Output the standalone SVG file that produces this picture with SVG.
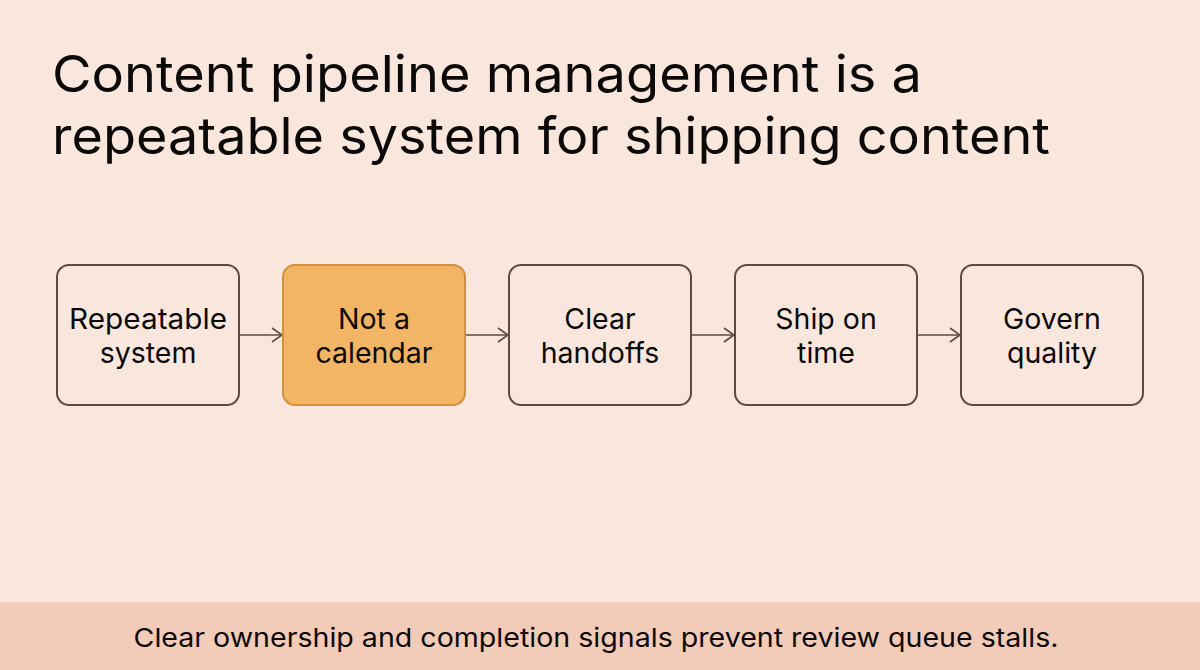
<svg xmlns="http://www.w3.org/2000/svg" width="1200" height="670" viewBox="0 0 1200 670">
<defs>
<style>
text{font-family:Inter,"Noto Sans",sans-serif;fill:#0c0a09}
.box{fill:#f9e7dd;stroke:#5e4a40;stroke-width:2}
.hl{fill:#f1b565;stroke:#d3913f;stroke-width:2}
.lbl{font-size:28.5px;text-anchor:middle}
.conn{stroke:#5e4a40;stroke-width:1.6;fill:none;marker-end:url(#ah)}
</style>
<marker id="ah" viewBox="0 0 12 16" refX="11" refY="8" markerWidth="12" markerHeight="16" markerUnits="userSpaceOnUse" orient="auto"><path d="M1,1 L11,8 L1,15" fill="none" stroke="#5e4a40" stroke-width="1.6"/></marker>
</defs>
<rect width="1200" height="670" fill="#f9e6dc"/>
<rect y="602" width="1200" height="68" fill="#f3cbb9"/>
<text x="52" y="92" font-size="51" textLength="870" lengthAdjust="spacingAndGlyphs">Content pipeline management is a</text>
<text x="52" y="154" font-size="51" textLength="998" lengthAdjust="spacingAndGlyphs">repeatable system for shipping content</text>
<g id="connectors">
<path class="conn" d="M239,335 H282"/>
<path class="conn" d="M465,335 H508"/>
<path class="conn" d="M691,335 H734"/>
<path class="conn" d="M917,335 H960"/>
</g>
<g id="n1"><rect class="box" x="57" y="265" width="182" height="140" rx="12"/><text class="lbl" x="148" y="329" textLength="158" lengthAdjust="spacingAndGlyphs">Repeatable</text><text class="lbl" x="148" y="363">system</text></g>
<g id="n2"><rect class="hl" x="283" y="265" width="182" height="140" rx="12"/><text class="lbl" x="374" y="329">Not a</text><text class="lbl" x="374" y="363">calendar</text></g>
<g id="n3"><rect class="box" x="509" y="265" width="182" height="140" rx="12"/><text class="lbl" x="600" y="329">Clear</text><text class="lbl" x="600" y="363">handoffs</text></g>
<g id="n4"><rect class="box" x="735" y="265" width="182" height="140" rx="12"/><text class="lbl" x="826" y="329">Ship on</text><text class="lbl" x="826" y="363">time</text></g>
<g id="n5"><rect class="box" x="961" y="265" width="182" height="140" rx="12"/><text class="lbl" x="1052" y="329">Govern</text><text class="lbl" x="1052" y="363">quality</text></g>
<text x="596" y="647" font-size="26" text-anchor="middle" textLength="925" lengthAdjust="spacingAndGlyphs">Clear ownership and completion signals prevent review queue stalls.</text>
</svg>
